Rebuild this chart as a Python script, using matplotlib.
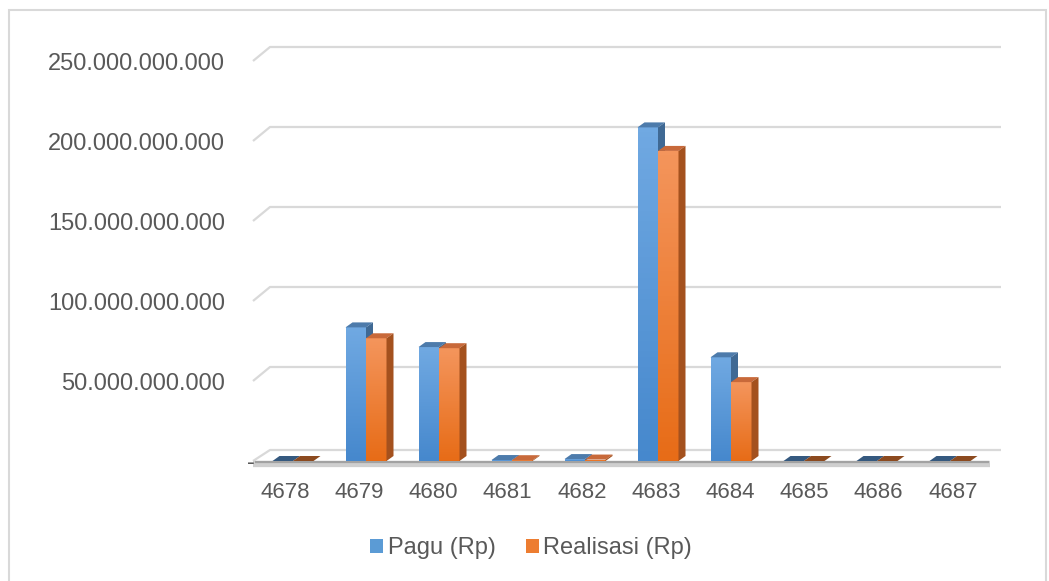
import numpy as np
import matplotlib.pyplot as plt
from matplotlib.patches import Polygon, Patch, Rectangle
from matplotlib.colors import LinearSegmentedColormap

plt.rcParams['font.family'] = ['Liberation Sans', 'DejaVu Sans']

# data (Rp)
categories = ['4678', '4679', '4680', '4681', '4682', '4683', '4684', '4685', '4686', '4687']
pagu = np.array([0, 83.5, 71.2, 0.6, 1.2, 208.5, 64.8, 0, 0, 0]) * 1e9
realisasi = np.array([0, 76.7, 70.5, 0.5, 0.9, 193.8, 49.3, 0, 0, 0]) * 1e9
y_ticks = [0, 50e9, 100e9, 150e9, 200e9, 250e9]
y_labels = ['-', '50.000.000.000', '100.000.000.000', '150.000.000.000',
            '200.000.000.000', '250.000.000.000']
series_names = ['Pagu (Rp)', 'Realisasi (Rp)']

W, H = 1049, 581
fig = plt.figure(figsize=(W / 100, H / 100), dpi=100)
ax = fig.add_axes([256.5 / W, 120 / H, 730 / W, 400 / H])
XMIN, XMAX, YMAX = -0.5, 9.5, 250e9
ax.set_xlim(XMIN, XMAX)
ax.set_ylim(0, YMAX)
ax.axis('off')

px_x = 730 / (XMAX - XMIN)   # pixels per category
px_y = 400 / YMAX            # pixels per Rp


def px(dx, dy):
    return dx / px_x, dy / px_y


def xpix(p):
    # figure pixel column -> data x
    return XMIN + (p - 256.5) / px_x


text_col = '#595959'
grid_col = '#d9d9d9'

# back wall gridlines with the little perspective step on the left
wdx, wdy = px(17, 14)
_, fdy = px(0, 11)
x_front = xpix(253)
x_right = xpix(1001)
x_front_right = xpix(990)
for v in y_ticks:
    dy = fdy if v == 0 else wdy
    ax.plot([x_front, x_front + wdx, x_right], [v, v + dy, v + dy],
            color=grid_col, lw=1.6, clip_on=False, zorder=1, solid_capstyle='butt')

# floor shadow along the front edge
_, s1 = px(0, -2.5)
_, s2 = px(0, -1)
ax.plot([x_front, x_front_right], [s1, s1], color='#c4c4c4', lw=4.5, alpha=0.8,
        clip_on=False, zorder=1.6, solid_capstyle='butt')
ax.plot([x_front + 0.03, x_front_right - 0.02], [s2, s2], color='#8f8f8f', lw=1.6, alpha=0.7,
        clip_on=False, zorder=1.7, solid_capstyle='butt')

# bars
x = np.arange(len(categories))
w = 20.5 / px_x
bdx, bdy = px(7, 5)
styles = [
    dict(base='#5b9bd5', top_grad='#70a9e2', bot_grad='#4688cd', top='#4d7bab',
         side='#3f6994', zero='#35597f'),
    dict(base='#ed7d31', top_grad='#f4955c', bot_grad='#e76c17', top='#c8693a',
         side='#a4511e', zero='#8c4a1f'),
]

bars_p = ax.bar(x - w / 2, pagu, w, color=styles[0]['base'], zorder=3)
bars_r = ax.bar(x + w / 2, realisasi, w, color=styles[1]['base'], zorder=3)

grad = np.linspace(0, 1, 64).reshape(-1, 1)
for i in range(len(categories)):
    for k, (bars, vals) in enumerate([(bars_p, pagu), (bars_r, realisasi)]):
        st = styles[k]
        z = 3 + i * 0.1 + k * 0.05
        b = bars[i]
        v = vals[i]
        x0 = b.get_x()
        x1 = x0 + b.get_width()
        b.set_zorder(z)
        if v <= 0:
            b.set_visible(False)
            ax.add_patch(Polygon([(x0, 0), (x1, 0), (x1 + bdx, bdy), (x0 + bdx, bdy)],
                                 facecolor=st['zero'], edgecolor='none', zorder=z))
            continue
        cmap = LinearSegmentedColormap.from_list('g', [st['bot_grad'], st['top_grad']])
        im = ax.imshow(grad, extent=[x0, x1, 0, v], origin='lower', aspect='auto',
                       cmap=cmap, zorder=z + 0.01)
        im.set_clip_path(b)
        ax.add_patch(Polygon([(x0, v), (x1, v), (x1 + bdx, v + bdy), (x0 + bdx, v + bdy)],
                             facecolor=st['top'], edgecolor='none', zorder=z + 0.02))
        ax.add_patch(Polygon([(x1, 0), (x1, v), (x1 + bdx, v + bdy), (x1 + bdx, bdy)],
                             facecolor=st['side'], edgecolor='none', zorder=z + 0.02))

ax.set_xlim(XMIN, XMAX)
ax.set_ylim(0, YMAX)

# y tick labels
for v, lab in zip(y_ticks, y_labels):
    if lab == '-':
        ax.text(xpix(251), v - 2.5 / px_y, lab, ha='center', va='center',
                fontsize=17, color=text_col, zorder=5)
    else:
        ax.text(xpix(225), v - 3.5 / px_y, lab, ha='right', va='center',
                fontsize=17, color=text_col)

# x tick labels
for i, lab in enumerate(categories):
    ax.text(xpix(285 + 74.2 * i), -32 / px_y, lab, ha='center', va='center',
            fontsize=16, color=text_col)

handles = [Patch(facecolor=styles[0]['base']), Patch(facecolor=styles[1]['base'])]
fig.legend(handles, series_names, loc='center', bbox_to_anchor=(531 / W, (581 - 548) / H),
           ncol=2, frameon=False, fontsize=17, labelcolor=text_col,
           handlelength=0.55, handleheight=0.55, handletextpad=0.2, columnspacing=1.27)

# chart border
fig.add_artist(Rectangle((9 / W, -0.05), (1046 - 9) / W, (581 - 10) / H + 0.05,
                         transform=fig.transFigure, fill=False, edgecolor=grid_col, lw=1.5))

fig.savefig('out.png', dpi=100)
